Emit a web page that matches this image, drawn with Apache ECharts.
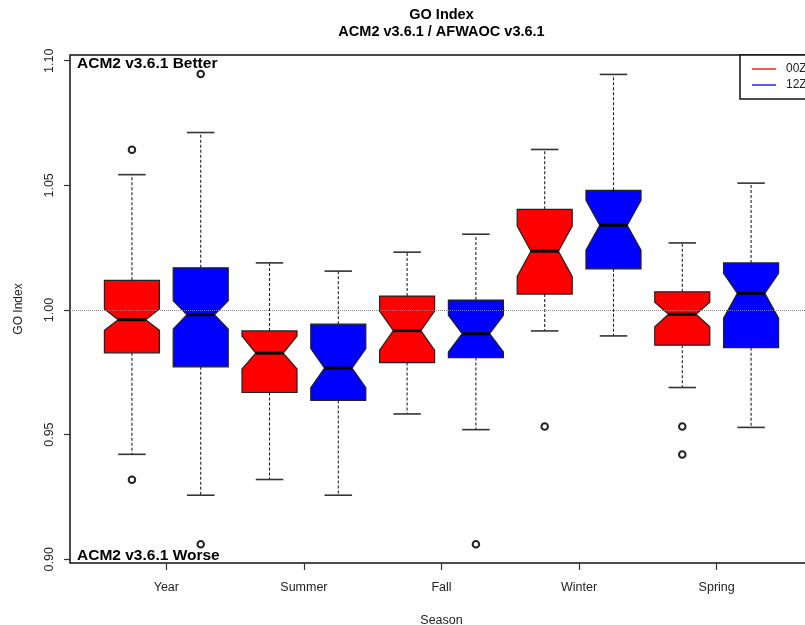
<!DOCTYPE html>
<html>
<head>
<meta charset="utf-8">
<script src="https://cdn.jsdelivr.net/npm/echarts@6/dist/echarts.min.js"></script>
<style>
html,body{margin:0;padding:0;overflow:hidden;background:#fff;}
#chart{width:830px;height:625px;}
</style>
</head>
<body>
<div id="chart"></div>
<script>
// ---- data ----
const seasons = ['Year', 'Summer', 'Fall', 'Winter', 'Spring'];
const yTicks = [0.90, 0.95, 1.00, 1.05, 1.10];

// 00Z (red)
const z00_lowWhisker = [0.9421, 0.9320, 0.9583, 0.9916, 0.9689];
const z00_q1         = [0.9828, 0.9669, 0.9789, 1.0064, 0.9859];
const z00_notchLow   = [0.9919, 0.9763, 0.9839, 1.0135, 0.9933];
const z00_median     = [0.9961, 0.9827, 0.9917, 1.0236, 0.9983];
const z00_notchHigh  = [1.0004, 0.9896, 0.9996, 1.0337, 1.0031];
const z00_q3         = [1.0119, 0.9916, 1.0056, 1.0404, 1.0073];
const z00_highWhisker= [1.0543, 1.0189, 1.0232, 1.0644, 1.0269];
const z00_outliers   = [[0.9319, 1.0643], [], [], [0.9533], [0.9533, 0.9420]];

// 12Z (blue)
const z12_lowWhisker = [0.9257, 0.9257, 0.9520, 0.9896, 0.9529];
const z12_q1         = [0.9772, 0.9637, 0.9809, 1.0165, 0.9849];
const z12_notchLow   = [0.9924, 0.9688, 0.9832, 1.0240, 0.9967];
const z12_median     = [0.9981, 0.9767, 0.9905, 1.0340, 1.0067];
const z12_notchHigh  = [1.0037, 0.9845, 0.9979, 1.0440, 1.0147];
const z12_q3         = [1.0169, 0.9943, 1.0040, 1.0480, 1.0189];
const z12_highWhisker= [1.0712, 1.0156, 1.0304, 1.0945, 1.0509];
const z12_outliers   = [[0.9060, 1.0947], [], [0.9060], [], []];

// ---- build series data ----
function boxData(offset, lw, q1, nl, md, nh, q3, hw) {
  return seasons.map((s, i) => [2 * i + offset, lw[i], q1[i], nl[i], md[i], nh[i], q3[i], hw[i]]);
}
const redData = boxData(1, z00_lowWhisker, z00_q1, z00_notchLow, z00_median, z00_notchHigh, z00_q3, z00_highWhisker);
const blueData = boxData(2, z12_lowWhisker, z12_q1, z12_notchLow, z12_median, z12_notchHigh, z12_q3, z12_highWhisker);
const outlierData = [];
z00_outliers.forEach((arr, i) => arr.forEach(v => outlierData.push([2 * i + 1, v])));
z12_outliers.forEach((arr, i) => arr.forEach(v => outlierData.push([2 * i + 2, v])));

function renderBox(params, api) {
  const x = api.value(0);
  const pt = k => api.coord([x, api.value(k)]);
  const cx = pt(4)[0];
  const hw = api.size([0.4, 0])[0];
  const yLw = pt(1)[1], yQ1 = pt(2)[1], yNl = pt(3)[1], yMd = pt(4)[1],
        yNh = pt(5)[1], yQ3 = pt(6)[1], yHw = pt(7)[1];
  const dash = { stroke: '#222', lineWidth: 1.1, lineDash: [3, 2] };
  const solid = { stroke: '#333', lineWidth: 1.6 };
  return {
    type: 'group',
    children: [
      { type: 'line', shape: { x1: cx, y1: yQ3, x2: cx, y2: yHw }, style: dash },
      { type: 'line', shape: { x1: cx, y1: yQ1, x2: cx, y2: yLw }, style: dash },
      { type: 'line', shape: { x1: cx - hw / 2, y1: yHw, x2: cx + hw / 2, y2: yHw }, style: solid },
      { type: 'line', shape: { x1: cx - hw / 2, y1: yLw, x2: cx + hw / 2, y2: yLw }, style: solid },
      {
        type: 'polygon',
        shape: {
          points: [
            [cx - hw, yQ3], [cx + hw, yQ3], [cx + hw, yNh], [cx + hw / 2, yMd],
            [cx + hw, yNl], [cx + hw, yQ1], [cx - hw, yQ1], [cx - hw, yNl],
            [cx - hw / 2, yMd], [cx - hw, yNh]
          ]
        },
        style: { fill: api.visual('color'), stroke: '#222', lineWidth: 1.2 }
      },
      { type: 'line', shape: { x1: cx - hw / 2, y1: yMd, x2: cx + hw / 2, y2: yMd }, style: { stroke: '#000', lineWidth: 3 } }
    ]
  };
}

const FONT = '"Liberation Sans", Arial, Helvetica, sans-serif';
const chart = echarts.init(document.getElementById('chart'), null, { renderer: 'canvas' });
chart.setOption({
  animation: false,
  backgroundColor: '#fff',
  textStyle: { fontFamily: FONT },
  grid: { left: 70, right: 17, top: 55, bottom: 62, outerBoundsMode: 'none', containLabel: false, show: true, borderColor: '#111', borderWidth: 1.5, backgroundColor: 'transparent' },
  graphic: [
    { type: 'text', x: 441.5, y: 15, style: { text: 'GO Index', font: 'bold 14.5px ' + FONT, fill: '#000', align: 'center', verticalAlign: 'middle' } },
    { type: 'text', x: 441.5, y: 32, style: { text: 'ACM2 v3.6.1 / AFWAOC v3.6.1', font: 'bold 14.5px ' + FONT, fill: '#000', align: 'center', verticalAlign: 'middle' } },
    { type: 'text', x: 77, y: 64, z: 10, style: { text: 'ACM2 v3.6.1 Better', font: 'bold 15.5px ' + FONT, fill: '#000', align: 'left', verticalAlign: 'middle' } },
    { type: 'text', x: 77, y: 556, z: 10, style: { text: 'ACM2 v3.6.1 Worse', font: 'bold 15.5px ' + FONT, fill: '#000', align: 'left', verticalAlign: 'middle' } }
  ],
  legend: {
    orient: 'vertical',
    left: 740, top: 55,
    padding: [7, 40, 7, 12],
    itemGap: 2,
    itemWidth: 24, itemHeight: 2,
    icon: 'rect',
    borderColor: '#111', borderWidth: 1.5,
    backgroundColor: '#fff',
    z: 20,
    textStyle: { fontSize: 12, color: '#222', lineHeight: 14, padding: [0, 0, 0, 5], fontFamily: FONT },
    data: [
      { name: '00Z', itemStyle: { color: '#ff5a5a' } },
      { name: '12Z', itemStyle: { color: '#5a5aff' } }
    ]
  },
  xAxis: {
    type: 'value', min: 0.1, max: 10.9,
    name: 'Season', nameLocation: 'middle', nameGap: 51,
    nameTextStyle: { fontSize: 12.5, color: '#222', fontFamily: FONT },
    axisLine: { show: false },
    splitLine: { show: false },
    axisTick: { show: true, length: 7, customValues: [1.5, 3.5, 5.5, 7.5, 9.5], lineStyle: { color: '#333', width: 1.2 } },
    axisLabel: {
      customValues: [1.5, 3.5, 5.5, 7.5, 9.5], margin: 18, fontSize: 12.5, color: '#222', fontFamily: FONT,
      formatter: v => seasons[Math.round((v - 1.5) / 2)]
    }
  },
  yAxis: {
    type: 'value', min: 0.8985, max: 1.1023,
    name: 'GO Index', nameLocation: 'middle', nameGap: 45,
    nameTextStyle: { fontSize: 12, color: '#222', fontFamily: FONT },
    axisLine: { show: false },
    splitLine: { show: false },
    axisTick: { show: true, length: 6, customValues: yTicks, lineStyle: { color: '#333', width: 1.2 } },
    axisLabel: {
      customValues: yTicks, rotate: 90, margin: 14, fontSize: 12.5, color: '#222', fontFamily: FONT,
      formatter: v => v.toFixed(2)
    }
  },
  series: [
    {
      type: 'line', data: [], z: 1, silent: true,
      markLine: { silent: true, symbol: 'none', label: { show: false }, lineStyle: { type: 'dotted', color: '#888', width: 1 }, data: [{ yAxis: 1 }] }
    },
    { name: '00Z', type: 'custom', renderItem: renderBox, data: redData, itemStyle: { color: '#ff0000' }, z: 3, encode: { x: 0, y: [1, 7] } },
    { name: '12Z', type: 'custom', renderItem: renderBox, data: blueData, itemStyle: { color: '#0000ff' }, z: 3, encode: { x: 0, y: [1, 7] } },
    {
      name: 'outliers', type: 'scatter', data: outlierData, symbol: 'emptyCircle', symbolSize: 6.5, z: 5,
      itemStyle: { color: '#222', borderColor: '#222', borderWidth: 1.1, opacity: 1 }
    }
  ]
});
</script>
</body>
</html>
